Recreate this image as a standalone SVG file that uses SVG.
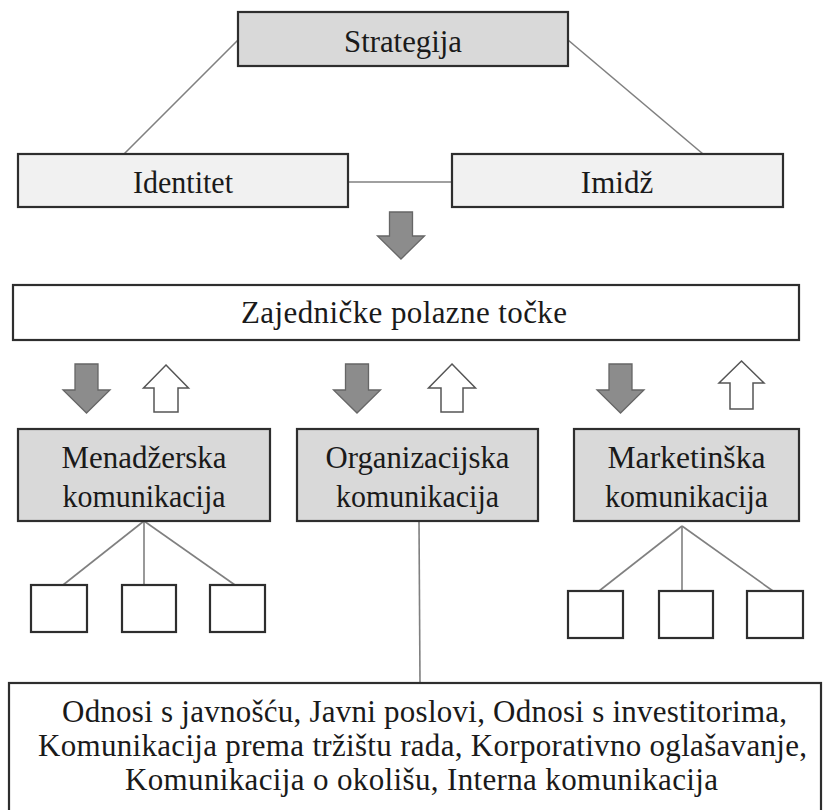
<svg xmlns="http://www.w3.org/2000/svg" width="827" height="810" viewBox="0 0 827 810">
<style>
.box{stroke:#2e2e2e;stroke-width:2.2}
.dark{fill:#d9d9d9}
.light{fill:#f1f1f1}
.white{fill:#ffffff}
.t{font-family:'Liberation Serif','Times New Roman',serif;font-size:31px;fill:#1a1a1a;text-anchor:middle}
.con{stroke:#808080;stroke-width:1.6;fill:none}
.down{fill:#8c8c8c;stroke:#666666;stroke-width:1.3}
.up{fill:#ffffff;stroke:#555555;stroke-width:1.5}
</style>
<rect width="827" height="810" fill="#ffffff"/>
<g id="connectors">
<line class="con" x1="238" y1="40" x2="124" y2="154"/>
<line class="con" x1="568" y1="40" x2="703" y2="154"/>
<line class="con" x1="348" y1="182" x2="452" y2="182"/>
<line class="con" x1="144" y1="521" x2="63" y2="585"/>
<line class="con" x1="144" y1="521" x2="144" y2="585"/>
<line class="con" x1="144" y1="521" x2="235" y2="585"/>
<line class="con" x1="682" y1="526" x2="599" y2="591"/>
<line class="con" x1="682" y1="526" x2="682" y2="591"/>
<line class="con" x1="682" y1="526" x2="773" y2="591"/>
<line class="con" x1="419" y1="521" x2="420" y2="683"/>
</g>
<g id="arrows">
<polygon class="down" points="389.5,212 412.5,212 412.5,236 424.5,236 401,259 377.5,236 389.5,236"/>
<polygon class="down" points="75,364 98,364 98,390 110,390 86.5,413 63,390 75,390"/>
<polygon class="down" points="345.5,364 368.5,364 368.5,390 380.5,390 357,413 333.5,390 345.5,390"/>
<polygon class="down" points="609,364 632,364 632,390 644,390 620.5,413 597,390 609,390"/>
<polygon class="up" points="166,365 188.5,388 178,388 178,412 154,412 154,388 143.5,388"/>
<polygon class="up" points="452,364 475.5,388 463,388 463,412 441,412 441,388 428.5,388"/>
<polygon class="up" points="741.5,361 764,383 753,383 753,409 730,409 730,383 719,383"/>
</g>
<g id="strategija">
<rect class="box dark" x="238" y="12" width="330" height="54"/>
<text class="t" x="403" y="52" textLength="118" lengthAdjust="spacingAndGlyphs">Strategija</text>
</g>
<g id="identitet">
<rect class="box light" x="18" y="154" width="330" height="53"/>
<text class="t" x="183" y="193" textLength="100" lengthAdjust="spacingAndGlyphs">Identitet</text>
</g>
<g id="imidz">
<rect class="box light" x="452" y="154" width="331" height="53"/>
<text class="t" x="617" y="193">Imidž</text>
</g>
<g id="zajednicke">
<rect class="box white" x="13" y="285" width="786" height="55"/>
<text class="t" x="404" y="323" textLength="326" lengthAdjust="spacing">Zajedničke polazne točke</text>
</g>
<g id="menadzerska">
<rect class="box dark" x="18" y="429" width="252" height="92"/>
<text class="t" x="144" y="468" textLength="165" lengthAdjust="spacingAndGlyphs">Menadžerska</text>
<text class="t" x="144" y="507" textLength="163" lengthAdjust="spacingAndGlyphs">komunikacija</text>
</g>
<g id="organizacijska">
<rect class="box dark" x="297" y="429" width="241" height="92"/>
<text class="t" x="417.5" y="468" textLength="184" lengthAdjust="spacingAndGlyphs">Organizacijska</text>
<text class="t" x="417.5" y="507" textLength="163" lengthAdjust="spacingAndGlyphs">komunikacija</text>
</g>
<g id="marketinska">
<rect class="box dark" x="574" y="429" width="225" height="92"/>
<text class="t" x="686.5" y="468" textLength="158" lengthAdjust="spacingAndGlyphs">Marketinška</text>
<text class="t" x="686.5" y="507" textLength="163" lengthAdjust="spacingAndGlyphs">komunikacija</text>
</g>
<g id="m1"><rect class="box white" x="31" y="585" width="56" height="47"/></g>
<g id="m2"><rect class="box white" x="122" y="585" width="54" height="47"/></g>
<g id="m3"><rect class="box white" x="210" y="585" width="55" height="47"/></g>
<g id="k1"><rect class="box white" x="568" y="591" width="55" height="47"/></g>
<g id="k2"><rect class="box white" x="659" y="591" width="54" height="47"/></g>
<g id="k3"><rect class="box white" x="747" y="591" width="56" height="47"/></g>
<g id="lista">
<rect class="box white" x="9" y="683" width="812" height="135"/>
<text class="t" x="424.5" y="722" textLength="725" lengthAdjust="spacing">Odnosi s javnošću, Javni poslovi, Odnosi s investitorima,</text>
<text class="t" x="422.5" y="756" textLength="769" lengthAdjust="spacing">Komunikacija prema tržištu rada, Korporativno oglašavanje,</text>
<text class="t" x="421.5" y="790" textLength="593" lengthAdjust="spacing">Komunikacija o okolišu, Interna komunikacija</text>
</g>
</svg>
